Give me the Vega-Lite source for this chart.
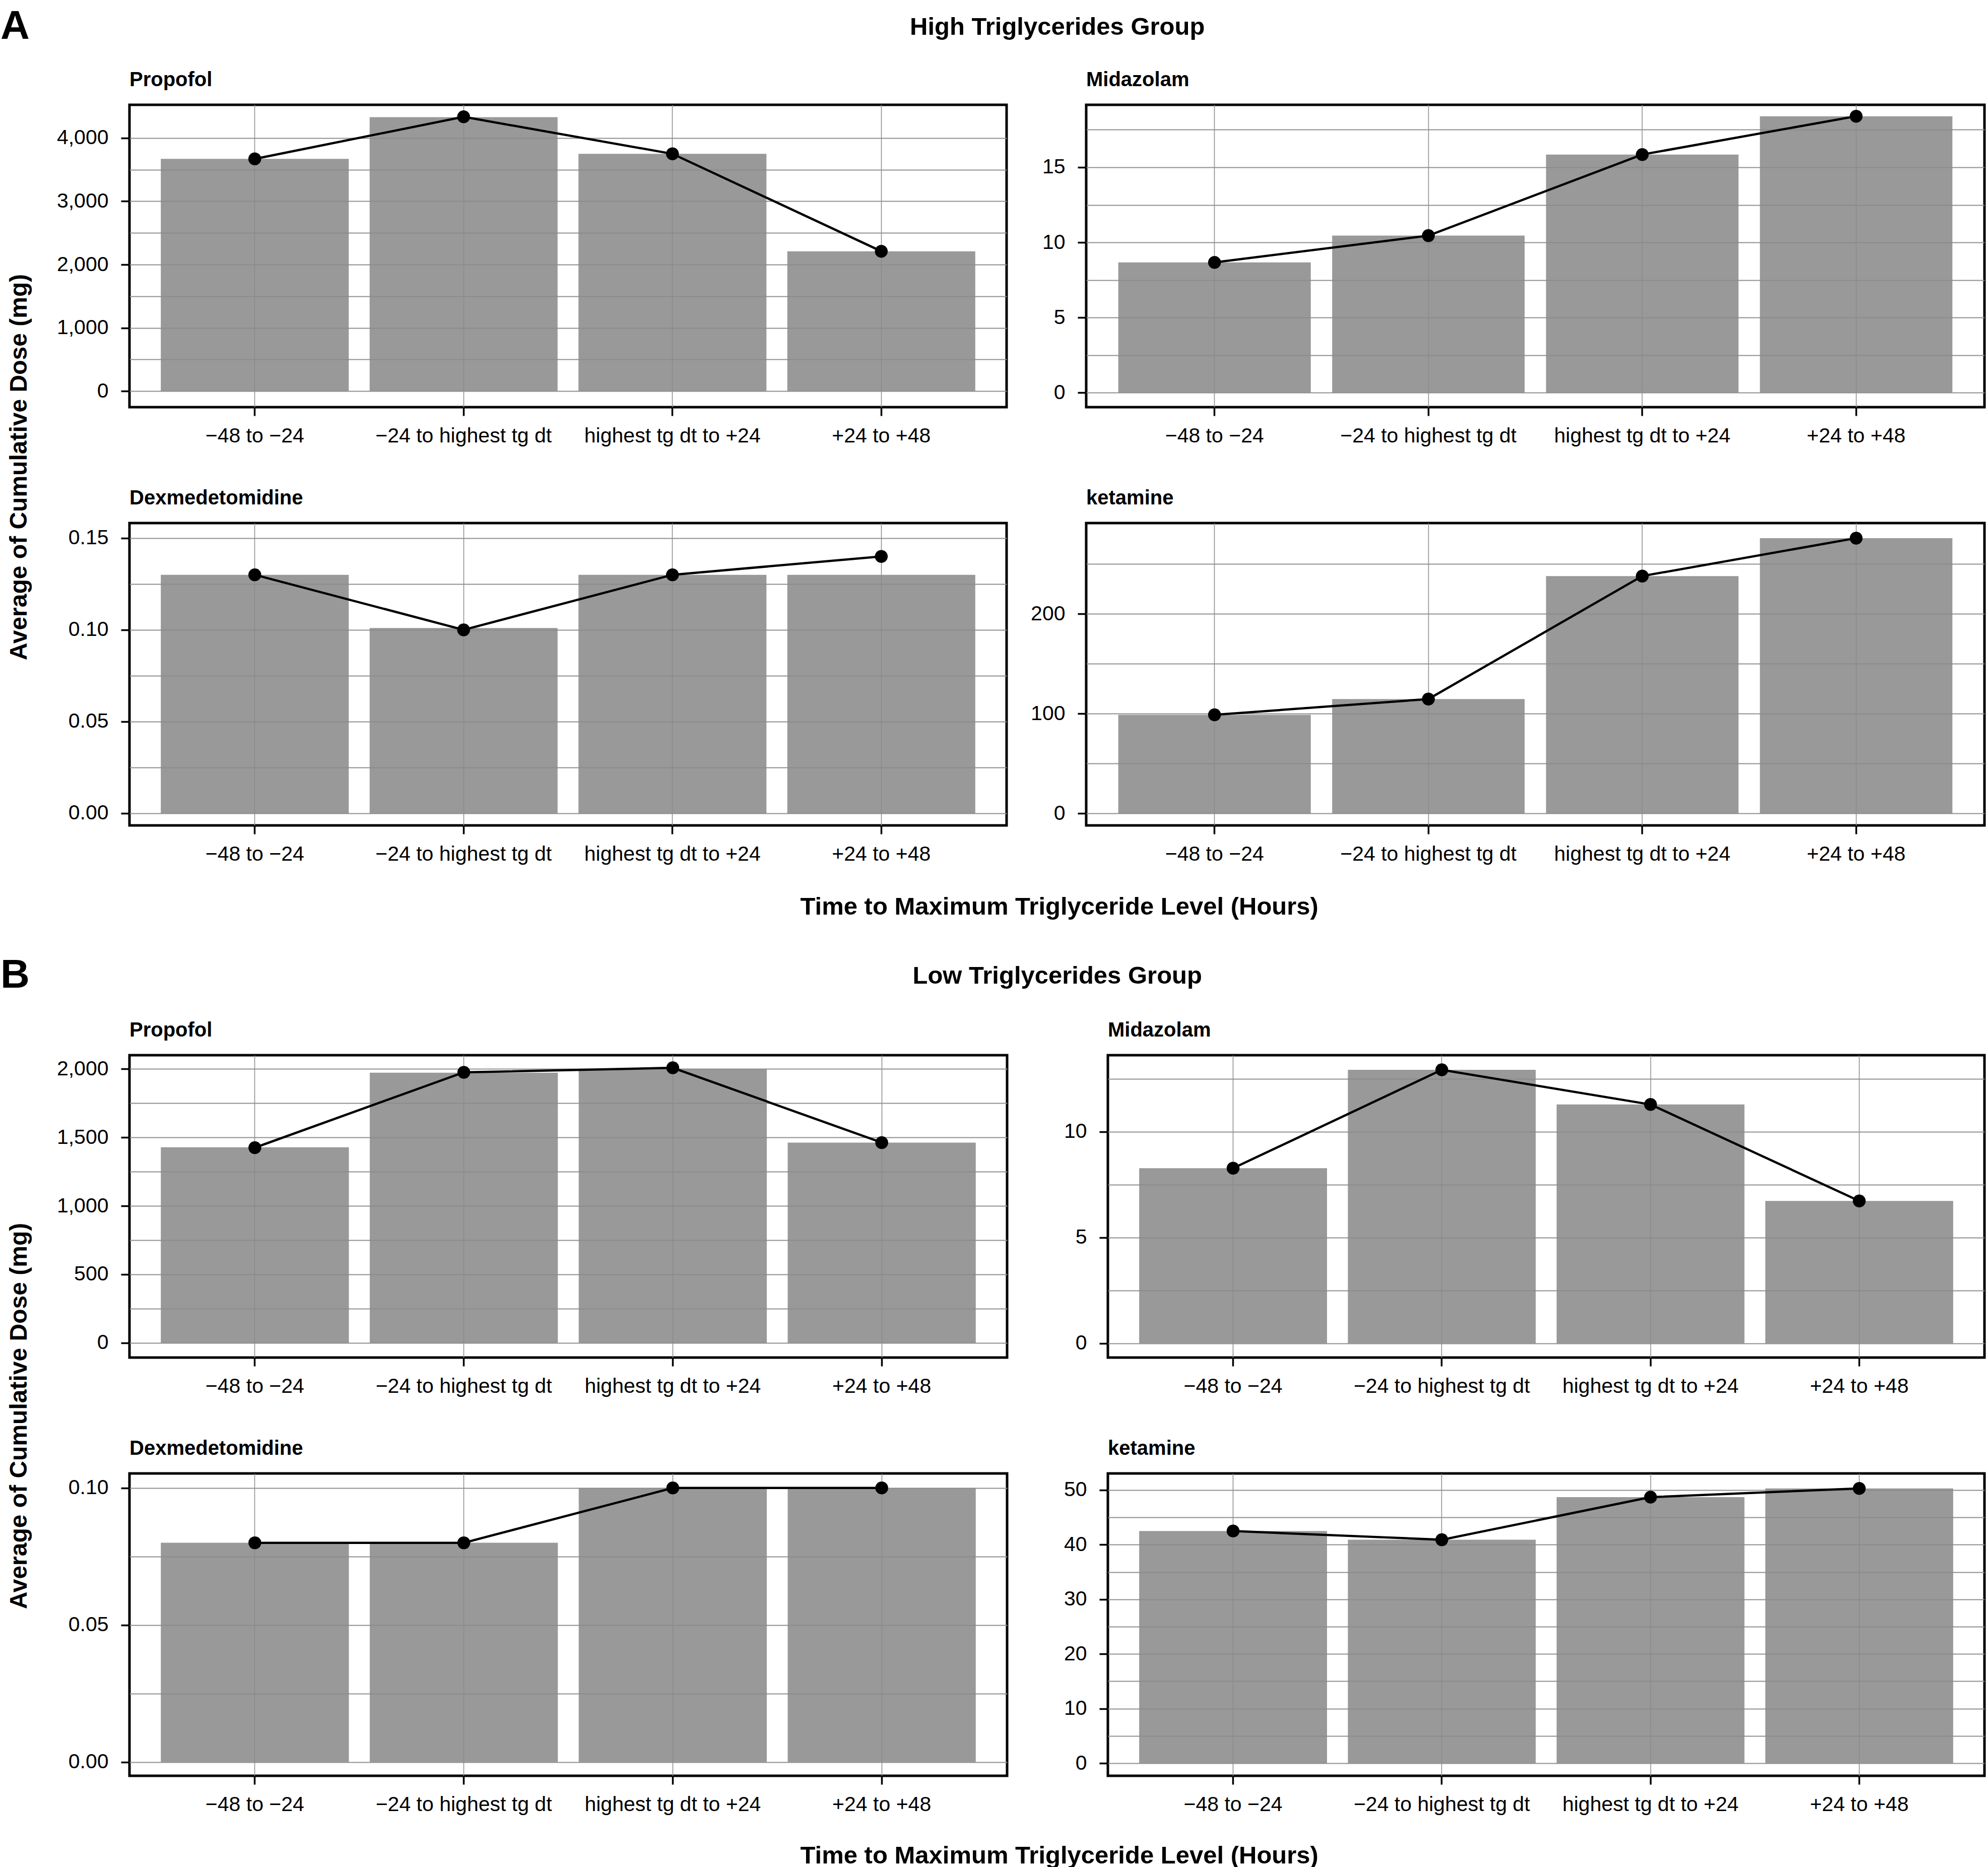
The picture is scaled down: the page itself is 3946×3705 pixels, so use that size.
{
  "$schema": "https://vega.github.io/schema/vega-lite/v6.json",
  "background": "white",
  "padding": {"left": 0, "right": 2, "top": 12, "bottom": 8},
  "config": {
    "font": "Liberation Sans",
    "view": {"stroke": "black", "strokeWidth": 5},
    "axis": {
      "labelFont": "Liberation Sans", "labelFontSize": 41, "labelColor": "black", "labelLimit": 0,
      "tickColor": "black", "tickWidth": 3.5, "tickSize": 17, "domain": false,
      "gridColor": "#8f8f8f", "gridWidth": 2.2, "labelPadding": 20
    },
    "axisX": {"gridWidth": 1.6},
    "axisY": {"labelPadding": 25},
    "title": {"font": "Liberation Sans", "color": "black", "fontWeight": "bold"}
  },
  "datasets": {
    "d": [
      {"g": "High", "drug": "Propofol", "o": 1, "period": "−48 to −24", "bar": 3670, "line": 3670},
      {"g": "High", "drug": "Propofol", "o": 2, "period": "−24 to highest tg dt", "bar": 4330, "line": 4335},
      {"g": "High", "drug": "Propofol", "o": 3, "period": "highest tg dt to +24", "bar": 3750, "line": 3750},
      {"g": "High", "drug": "Propofol", "o": 4, "period": "+24 to +48", "bar": 2210, "line": 2210},
      {"g": "High", "drug": "Midazolam", "o": 1, "period": "−48 to −24", "bar": 8.67, "line": 8.67},
      {"g": "High", "drug": "Midazolam", "o": 2, "period": "−24 to highest tg dt", "bar": 10.45, "line": 10.45},
      {"g": "High", "drug": "Midazolam", "o": 3, "period": "highest tg dt to +24", "bar": 15.85, "line": 15.85},
      {"g": "High", "drug": "Midazolam", "o": 4, "period": "+24 to +48", "bar": 18.4, "line": 18.4},
      {"g": "High", "drug": "Dexmedetomidine", "o": 1, "period": "−48 to −24", "bar": 0.13, "line": 0.13},
      {"g": "High", "drug": "Dexmedetomidine", "o": 2, "period": "−24 to highest tg dt", "bar": 0.101, "line": 0.1},
      {"g": "High", "drug": "Dexmedetomidine", "o": 3, "period": "highest tg dt to +24", "bar": 0.13, "line": 0.13},
      {"g": "High", "drug": "Dexmedetomidine", "o": 4, "period": "+24 to +48", "bar": 0.13, "line": 0.14},
      {"g": "High", "drug": "ketamine", "o": 1, "period": "−48 to −24", "bar": 98.7, "line": 98.7},
      {"g": "High", "drug": "ketamine", "o": 2, "period": "−24 to highest tg dt", "bar": 114.5, "line": 114.5},
      {"g": "High", "drug": "ketamine", "o": 3, "period": "highest tg dt to +24", "bar": 237.8, "line": 237.8},
      {"g": "High", "drug": "ketamine", "o": 4, "period": "+24 to +48", "bar": 275.8, "line": 275.8},
      {"g": "Low", "drug": "Propofol", "o": 1, "period": "−48 to −24", "bar": 1428, "line": 1425},
      {"g": "Low", "drug": "Propofol", "o": 2, "period": "−24 to highest tg dt", "bar": 1972, "line": 1975},
      {"g": "Low", "drug": "Propofol", "o": 3, "period": "highest tg dt to +24", "bar": 2000, "line": 2008},
      {"g": "Low", "drug": "Propofol", "o": 4, "period": "+24 to +48", "bar": 1462, "line": 1462},
      {"g": "Low", "drug": "Midazolam", "o": 1, "period": "−48 to −24", "bar": 8.28, "line": 8.28},
      {"g": "Low", "drug": "Midazolam", "o": 2, "period": "−24 to highest tg dt", "bar": 12.93, "line": 12.93},
      {"g": "Low", "drug": "Midazolam", "o": 3, "period": "highest tg dt to +24", "bar": 11.29, "line": 11.29},
      {"g": "Low", "drug": "Midazolam", "o": 4, "period": "+24 to +48", "bar": 6.73, "line": 6.73},
      {"g": "Low", "drug": "Dexmedetomidine", "o": 1, "period": "−48 to −24", "bar": 0.08, "line": 0.08},
      {"g": "Low", "drug": "Dexmedetomidine", "o": 2, "period": "−24 to highest tg dt", "bar": 0.08, "line": 0.08},
      {"g": "Low", "drug": "Dexmedetomidine", "o": 3, "period": "highest tg dt to +24", "bar": 0.1, "line": 0.1},
      {"g": "Low", "drug": "Dexmedetomidine", "o": 4, "period": "+24 to +48", "bar": 0.1, "line": 0.1},
      {"g": "Low", "drug": "ketamine", "o": 1, "period": "−48 to −24", "bar": 42.5, "line": 42.5},
      {"g": "Low", "drug": "ketamine", "o": 2, "period": "−24 to highest tg dt", "bar": 40.9, "line": 40.9},
      {"g": "Low", "drug": "ketamine", "o": 3, "period": "highest tg dt to +24", "bar": 48.7, "line": 48.7},
      {"g": "Low", "drug": "ketamine", "o": 4, "period": "+24 to +48", "bar": 50.3, "line": 50.3}
    ]
  },
  "data": {"name": "d"},
  "spacing": 70,
  "vconcat": [
    {
      "title": {"text": "A", "anchor": "start", "frame": "bounds", "fontSize": 80, "baseline": "alphabetic", "offset": 0, "dy": 127, "dx": -14},
      "vconcat": [{
        "title": {"text": "Average of Cumulative Dose (mg)", "orient": "left", "anchor": "middle", "fontSize": 48, "offset": 47},
        "vconcat": [{
          "title": {"text": "High Triglycerides Group", "anchor": "middle", "fontSize": 49, "baseline": "alphabetic", "offset": 19, "dx": 73},
          "vconcat": [{
            "title": {"text": "Time to Maximum Triglyceride Level (Hours)", "orient": "bottom", "anchor": "middle", "fontSize": 49, "offset": 58, "dx": 77},
            "columns": 2,
            "spacing": {"row": 78, "column": 42},
            "concat": [
              {
                "title": {"text": "Propofol", "anchor": "start", "frame": "group", "fontSize": 40, "baseline": "alphabetic", "offset": -3},
                "width": 1741, "height": 600,
                "transform": [{"filter": "datum.g === 'High' && datum.drug === 'Propofol'"}],
                "encoding": {"x": {"field": "period", "type": "nominal", "sort": ["−48 to −24", "−24 to highest tg dt", "highest tg dt to +24", "+24 to +48"], "scale": {"paddingInner": 0.1, "paddingOuter": 0.15}, "axis": {"title": null, "labelAngle": 0, "bandPosition": 0.5, "grid": true}}},
                "layer": [
                  {"mark": {"type": "bar", "color": "#8b8b8b", "opacity": 0.88}, "encoding": {"y": {"field": "bar", "type": "quantitative", "scale": {"domain": [-254, 4525], "nice": false}, "axis": {"title": null, "grid": true, "values": [0, 500, 1000, 1500, 2000, 2500, 3000, 3500, 4000], "format": ",.0f", "labelExpr": "abs(datum.value/1000 - round(datum.value/1000)) < 0.001 ? datum.label : ''", "tickOpacity": {"condition": {"test": "abs(datum.value/1000 - round(datum.value/1000)) < 0.001", "value": 1}, "value": 0}}}, "y2": {"datum": 0}}},
                  {"mark": {"type": "line", "color": "black", "strokeWidth": 4.5}, "encoding": {"y": {"field": "line", "type": "quantitative"}, "order": {"field": "o"}}},
                  {"mark": {"type": "point", "filled": true, "color": "black", "size": 650, "opacity": 1}, "encoding": {"y": {"field": "line", "type": "quantitative"}}}
                ]
              },
              {
                "title": {"text": "Midazolam", "anchor": "start", "frame": "group", "fontSize": 40, "baseline": "alphabetic", "offset": -3},
                "width": 1783, "height": 600,
                "transform": [{"filter": "datum.g === 'High' && datum.drug === 'Midazolam'"}],
                "encoding": {"x": {"field": "period", "type": "nominal", "sort": ["−48 to −24", "−24 to highest tg dt", "highest tg dt to +24", "+24 to +48"], "scale": {"paddingInner": 0.1, "paddingOuter": 0.15}, "axis": {"title": null, "labelAngle": 0, "bandPosition": 0.5, "grid": true}}},
                "layer": [
                  {"mark": {"type": "bar", "color": "#8b8b8b", "opacity": 0.88}, "encoding": {"y": {"field": "bar", "type": "quantitative", "scale": {"domain": [-0.97, 19.16], "nice": false}, "axis": {"title": null, "grid": true, "values": [0, 2.5, 5, 7.5, 10, 12.5, 15, 17.5], "format": "d", "labelExpr": "abs(datum.value/5 - round(datum.value/5)) < 0.001 ? datum.label : ''", "tickOpacity": {"condition": {"test": "abs(datum.value/5 - round(datum.value/5)) < 0.001", "value": 1}, "value": 0}}}, "y2": {"datum": 0}}},
                  {"mark": {"type": "line", "color": "black", "strokeWidth": 4.5}, "encoding": {"y": {"field": "line", "type": "quantitative"}, "order": {"field": "o"}}},
                  {"mark": {"type": "point", "filled": true, "color": "black", "size": 650, "opacity": 1}, "encoding": {"y": {"field": "line", "type": "quantitative"}}}
                ]
              },
              {
                "title": {"text": "Dexmedetomidine", "anchor": "start", "frame": "group", "fontSize": 40, "baseline": "alphabetic", "offset": -3},
                "width": 1741, "height": 600,
                "transform": [{"filter": "datum.g === 'High' && datum.drug === 'Dexmedetomidine'"}],
                "encoding": {"x": {"field": "period", "type": "nominal", "sort": ["−48 to −24", "−24 to highest tg dt", "highest tg dt to +24", "+24 to +48"], "scale": {"paddingInner": 0.1, "paddingOuter": 0.15}, "axis": {"title": null, "labelAngle": 0, "bandPosition": 0.5, "grid": true}}},
                "layer": [
                  {"mark": {"type": "bar", "color": "#8b8b8b", "opacity": 0.88}, "encoding": {"y": {"field": "bar", "type": "quantitative", "scale": {"domain": [-0.0066, 0.1582], "nice": false}, "axis": {"title": null, "grid": true, "values": [0, 0.025, 0.05, 0.075, 0.1, 0.125, 0.15], "format": ".2f", "labelExpr": "abs(datum.value/0.05 - round(datum.value/0.05)) < 0.001 ? datum.label : ''", "tickOpacity": {"condition": {"test": "abs(datum.value/0.05 - round(datum.value/0.05)) < 0.001", "value": 1}, "value": 0}}}, "y2": {"datum": 0}}},
                  {"mark": {"type": "line", "color": "black", "strokeWidth": 4.5}, "encoding": {"y": {"field": "line", "type": "quantitative"}, "order": {"field": "o"}}},
                  {"mark": {"type": "point", "filled": true, "color": "black", "size": 650, "opacity": 1}, "encoding": {"y": {"field": "line", "type": "quantitative"}}}
                ]
              },
              {
                "title": {"text": "ketamine", "anchor": "start", "frame": "group", "fontSize": 40, "baseline": "alphabetic", "offset": -3},
                "width": 1783, "height": 600,
                "transform": [{"filter": "datum.g === 'High' && datum.drug === 'ketamine'"}],
                "encoding": {"x": {"field": "period", "type": "nominal", "sort": ["−48 to −24", "−24 to highest tg dt", "highest tg dt to +24", "+24 to +48"], "scale": {"paddingInner": 0.1, "paddingOuter": 0.15}, "axis": {"title": null, "labelAngle": 0, "bandPosition": 0.5, "grid": true}}},
                "layer": [
                  {"mark": {"type": "bar", "color": "#8b8b8b", "opacity": 0.88}, "encoding": {"y": {"field": "bar", "type": "quantitative", "scale": {"domain": [-12.1, 290.9], "nice": false}, "axis": {"title": null, "grid": true, "values": [0, 50, 100, 150, 200, 250], "format": "d", "labelExpr": "abs(datum.value/100 - round(datum.value/100)) < 0.001 ? datum.label : ''", "tickOpacity": {"condition": {"test": "abs(datum.value/100 - round(datum.value/100)) < 0.001", "value": 1}, "value": 0}}}, "y2": {"datum": 0}}},
                  {"mark": {"type": "line", "color": "black", "strokeWidth": 4.5}, "encoding": {"y": {"field": "line", "type": "quantitative"}, "order": {"field": "o"}}},
                  {"mark": {"type": "point", "filled": true, "color": "black", "size": 650, "opacity": 1}, "encoding": {"y": {"field": "line", "type": "quantitative"}}}
                ]
              }
            ]
          }]
        }]
      }]
    },
    {
      "title": {"text": "B", "anchor": "start", "frame": "bounds", "fontSize": 80, "baseline": "alphabetic", "offset": 0, "dy": 127, "dx": -14},
      "vconcat": [{
        "title": {"text": "Average of Cumulative Dose (mg)", "orient": "left", "anchor": "middle", "fontSize": 48, "offset": 47},
        "vconcat": [{
          "title": {"text": "Low Triglycerides Group", "anchor": "middle", "fontSize": 49, "baseline": "alphabetic", "offset": 22, "dx": 73},
          "vconcat": [{
            "title": {"text": "Time to Maximum Triglyceride Level (Hours)", "orient": "bottom", "anchor": "middle", "fontSize": 49, "offset": 55, "dx": 77},
            "columns": 2,
            "spacing": {"row": 78, "column": 106},
            "concat": [
              {
                "title": {"text": "Propofol", "anchor": "start", "frame": "group", "fontSize": 40, "baseline": "alphabetic", "offset": -3},
                "width": 1742, "height": 600,
                "transform": [{"filter": "datum.g === 'Low' && datum.drug === 'Propofol'"}],
                "encoding": {"x": {"field": "period", "type": "nominal", "sort": ["−48 to −24", "−24 to highest tg dt", "highest tg dt to +24", "+24 to +48"], "scale": {"paddingInner": 0.1, "paddingOuter": 0.15}, "axis": {"title": null, "labelAngle": 0, "bandPosition": 0.5, "grid": true}}},
                "layer": [
                  {"mark": {"type": "bar", "color": "#8b8b8b", "opacity": 0.88}, "encoding": {"y": {"field": "bar", "type": "quantitative", "scale": {"domain": [-107, 2100], "nice": false}, "axis": {"title": null, "grid": true, "values": [0, 250, 500, 750, 1000, 1250, 1500, 1750, 2000], "format": ",.0f", "labelExpr": "abs(datum.value/500 - round(datum.value/500)) < 0.001 ? datum.label : ''", "tickOpacity": {"condition": {"test": "abs(datum.value/500 - round(datum.value/500)) < 0.001", "value": 1}, "value": 0}}}, "y2": {"datum": 0}}},
                  {"mark": {"type": "line", "color": "black", "strokeWidth": 4.5}, "encoding": {"y": {"field": "line", "type": "quantitative"}, "order": {"field": "o"}}},
                  {"mark": {"type": "point", "filled": true, "color": "black", "size": 650, "opacity": 1}, "encoding": {"y": {"field": "line", "type": "quantitative"}}}
                ]
              },
              {
                "title": {"text": "Midazolam", "anchor": "start", "frame": "group", "fontSize": 40, "baseline": "alphabetic", "offset": -3},
                "width": 1740, "height": 600,
                "transform": [{"filter": "datum.g === 'Low' && datum.drug === 'Midazolam'"}],
                "encoding": {"x": {"field": "period", "type": "nominal", "sort": ["−48 to −24", "−24 to highest tg dt", "highest tg dt to +24", "+24 to +48"], "scale": {"paddingInner": 0.1, "paddingOuter": 0.15}, "axis": {"title": null, "labelAngle": 0, "bandPosition": 0.5, "grid": true}}},
                "layer": [
                  {"mark": {"type": "bar", "color": "#8b8b8b", "opacity": 0.88}, "encoding": {"y": {"field": "bar", "type": "quantitative", "scale": {"domain": [-0.67, 13.62], "nice": false}, "axis": {"title": null, "grid": true, "values": [0, 2.5, 5, 7.5, 10, 12.5], "format": "d", "labelExpr": "abs(datum.value/5 - round(datum.value/5)) < 0.001 ? datum.label : ''", "tickOpacity": {"condition": {"test": "abs(datum.value/5 - round(datum.value/5)) < 0.001", "value": 1}, "value": 0}}}, "y2": {"datum": 0}}},
                  {"mark": {"type": "line", "color": "black", "strokeWidth": 4.5}, "encoding": {"y": {"field": "line", "type": "quantitative"}, "order": {"field": "o"}}},
                  {"mark": {"type": "point", "filled": true, "color": "black", "size": 650, "opacity": 1}, "encoding": {"y": {"field": "line", "type": "quantitative"}}}
                ]
              },
              {
                "title": {"text": "Dexmedetomidine", "anchor": "start", "frame": "group", "fontSize": 40, "baseline": "alphabetic", "offset": -3},
                "width": 1742, "height": 600,
                "transform": [{"filter": "datum.g === 'Low' && datum.drug === 'Dexmedetomidine'"}],
                "encoding": {"x": {"field": "period", "type": "nominal", "sort": ["−48 to −24", "−24 to highest tg dt", "highest tg dt to +24", "+24 to +48"], "scale": {"paddingInner": 0.1, "paddingOuter": 0.15}, "axis": {"title": null, "labelAngle": 0, "bandPosition": 0.5, "grid": true}}},
                "layer": [
                  {"mark": {"type": "bar", "color": "#8b8b8b", "opacity": 0.88}, "encoding": {"y": {"field": "bar", "type": "quantitative", "scale": {"domain": [-0.005, 0.1053], "nice": false}, "axis": {"title": null, "grid": true, "values": [0, 0.025, 0.05, 0.075, 0.1], "format": ".2f", "labelExpr": "abs(datum.value/0.05 - round(datum.value/0.05)) < 0.001 ? datum.label : ''", "tickOpacity": {"condition": {"test": "abs(datum.value/0.05 - round(datum.value/0.05)) < 0.001", "value": 1}, "value": 0}}}, "y2": {"datum": 0}}},
                  {"mark": {"type": "line", "color": "black", "strokeWidth": 4.5}, "encoding": {"y": {"field": "line", "type": "quantitative"}, "order": {"field": "o"}}},
                  {"mark": {"type": "point", "filled": true, "color": "black", "size": 650, "opacity": 1}, "encoding": {"y": {"field": "line", "type": "quantitative"}}}
                ]
              },
              {
                "title": {"text": "ketamine", "anchor": "start", "frame": "group", "fontSize": 40, "baseline": "alphabetic", "offset": -3},
                "width": 1740, "height": 600,
                "transform": [{"filter": "datum.g === 'Low' && datum.drug === 'ketamine'"}],
                "encoding": {"x": {"field": "period", "type": "nominal", "sort": ["−48 to −24", "−24 to highest tg dt", "highest tg dt to +24", "+24 to +48"], "scale": {"paddingInner": 0.1, "paddingOuter": 0.15}, "axis": {"title": null, "labelAngle": 0, "bandPosition": 0.5, "grid": true}}},
                "layer": [
                  {"mark": {"type": "bar", "color": "#8b8b8b", "opacity": 0.88}, "encoding": {"y": {"field": "bar", "type": "quantitative", "scale": {"domain": [-2.3, 53.04], "nice": false}, "axis": {"title": null, "grid": true, "values": [0, 5, 10, 15, 20, 25, 30, 35, 40, 45, 50], "format": "d", "labelExpr": "abs(datum.value/10 - round(datum.value/10)) < 0.001 ? datum.label : ''", "tickOpacity": {"condition": {"test": "abs(datum.value/10 - round(datum.value/10)) < 0.001", "value": 1}, "value": 0}}}, "y2": {"datum": 0}}},
                  {"mark": {"type": "line", "color": "black", "strokeWidth": 4.5}, "encoding": {"y": {"field": "line", "type": "quantitative"}, "order": {"field": "o"}}},
                  {"mark": {"type": "point", "filled": true, "color": "black", "size": 650, "opacity": 1}, "encoding": {"y": {"field": "line", "type": "quantitative"}}}
                ]
              }
            ]
          }]
        }]
      }]
    }
  ]
}
